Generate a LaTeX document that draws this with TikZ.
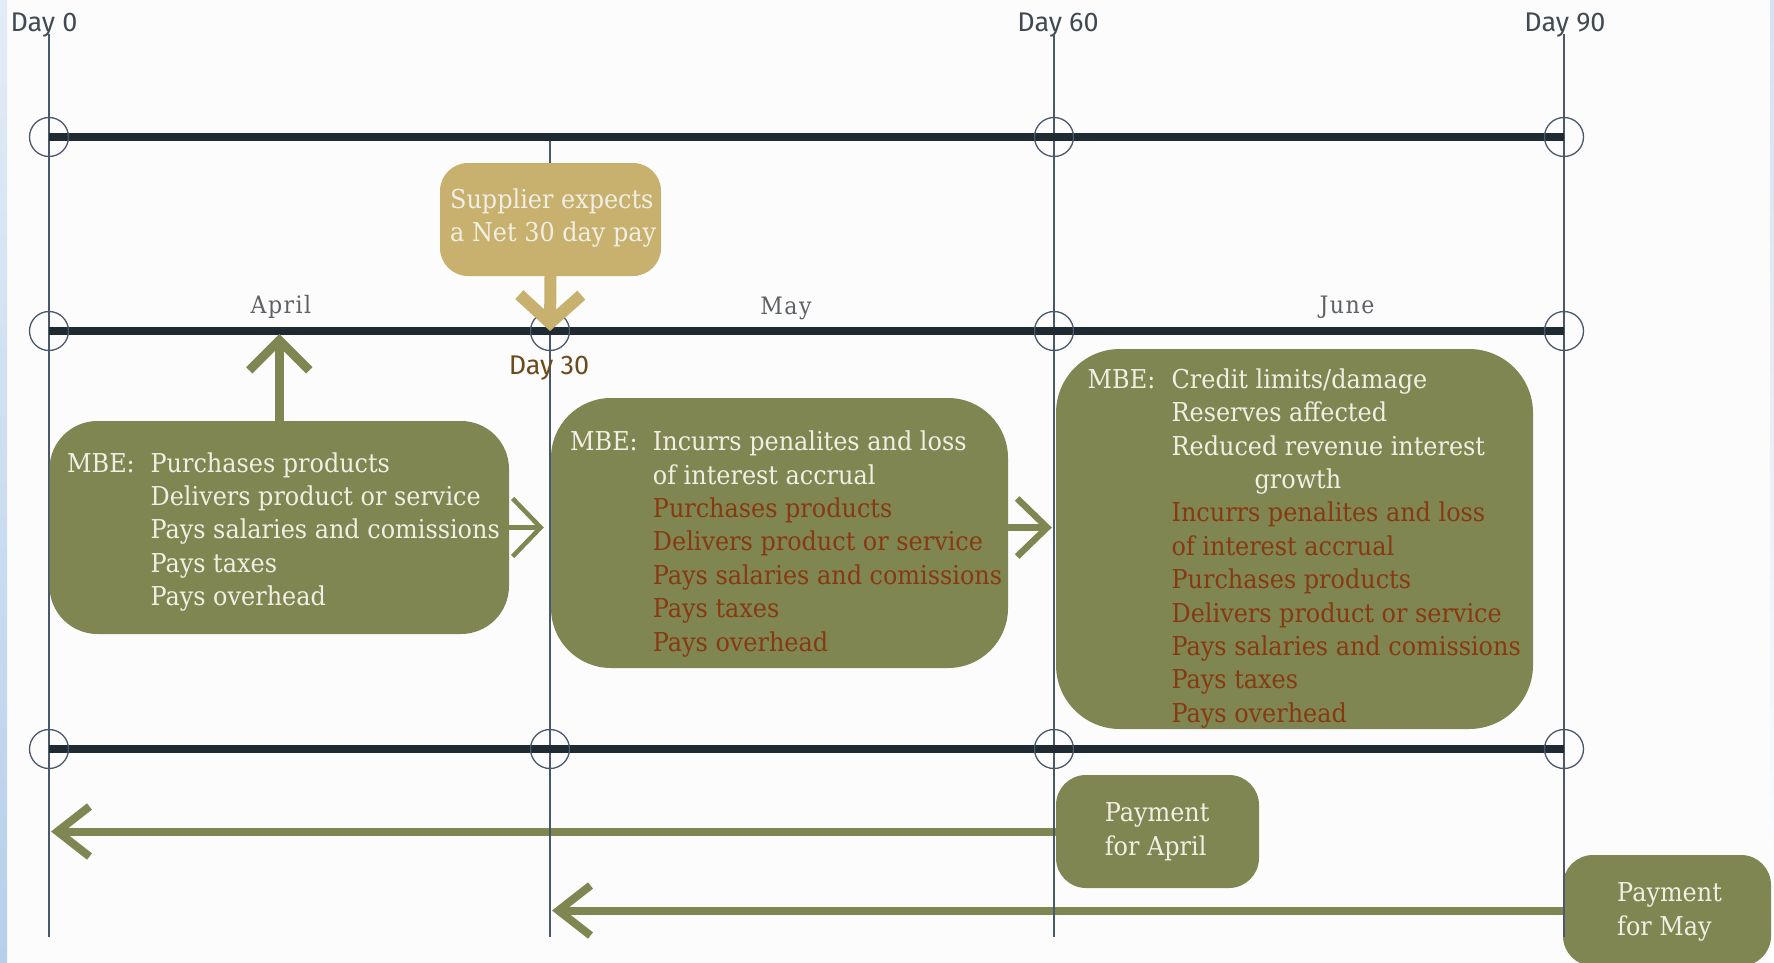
\documentclass[tikz,border=0pt]{standalone}
\usepackage{fontspec}
\setmainfont{DejaVu Serif}[FakeStretch=0.92]
\newfontfamily\dayfont{Fira Sans}
\usetikzlibrary{arrows.meta,positioning}

\definecolor{olive}{HTML}{7F8651}
\definecolor{tan}{HTML}{C8B16E}
\definecolor{rust}{HTML}{873A12}
\definecolor{ink}{HTML}{1F2A33}
\definecolor{slate}{HTML}{4A586B}
\definecolor{cream}{HTML}{F1EFE4}
\definecolor{daybrown}{HTML}{6B4B1C}
\definecolor{monthgray}{HTML}{5E6266}
\definecolor{stripA}{HTML}{E2ECF6}
\definecolor{stripB}{HTML}{B7CFEA}

\newcommand\bodysize{\fontsize{26}{33.4}\selectfont}
\newcommand\rl[1]{\textcolor{rust}{#1}}

\begin{document}
\begin{tikzpicture}[x=1pt,y=-1pt,
    every node/.append style={inner sep=0pt},
    timeline/.style={ink,line width=8pt},
    dayline/.style={slate,line width=1.8pt},
    ring/.style={slate,line width=1.3pt},
    daylabel/.style={font=\dayfont\fontsize{27}{30}\selectfont,text=ink!85,anchor=base},
    monthlabel/.style={font=\addfontfeature{LetterSpace=6}\fontsize{24}{28}\selectfont,text=monthgray,anchor=base},
    roundbox/.style={fill=olive,rounded corners=#1},
    boxtext/.style={font=\bodysize,text=cream,anchor=base west},
    flow/.style={olive,line width=#1},
  ]

% frame
\useasboundingbox (0,0) rectangle (1774,963);
\clip (0,0) rectangle (1774,963);
\fill[white!98!gray] (0,0) rectangle (1774,963);
\shade[top color=stripA,bottom color=stripB] (0,0) rectangle (7,963);
\shade[top color=stripB!60,bottom color=white] (1770,0) rectangle (1774,963);

% days and timelines
\foreach \n/\x/\lx in {0/49/44,60/1054/1058,90/1564/1565}{
  \node[daylabel] (day\n) at (\lx,32) {Day \n};
  \coordinate (top\n) at (\x,34);
  \coordinate (bot\n) at (\x,937);
}
\coordinate (bot30) at (550,937);
\foreach \y/\r in {137/a,331/b,749/c}{
  \coordinate (\r0) at (49,\y);
  \coordinate (\r30) at (550,\y);
  \coordinate (\r60) at (1054,\y);
  \coordinate (\r90) at (1564,\y);
}

% payment boxes
\node[roundbox=30,minimum width=203,minimum height=113] (payapril) at (1157.5,831.5) {};
\node[roundbox=30,minimum width=208,minimum height=111] (paymay) at (1667,910.5) {};
\draw[flow=8pt,-{Straight Barb[length=32pt,width=50pt]},shorten >=2pt] (payapril.west) -- (payapril.west -| a0);
\draw[flow=8pt,-{Straight Barb[length=32pt,width=50pt]},shorten >=2pt] (paymay.west) -- (paymay.west -| a30);

\foreach \n in {0,60,90}
  \draw[dayline] (top\n) -- (bot\n);
\draw[dayline] (a30) -- (bot30);
\foreach \r in {a,b,c}
  \draw[timeline] (\r0) -- (\r90);
\foreach \c in {a0,a60,a90,b0,b30,b60,b90,c0,c30,c60,c90}
  \draw[ring] (\c) circle (19.5);

\node[daylabel,text=daybrown] (day30) at (549,374) {Day 30};
\node[monthlabel] (april) at (281,313) {April};
\node[monthlabel] (may) at (786,314) {May};
\node[monthlabel] (june) at (1347,313) {June};

% supplier
\node[roundbox=28,fill=tan,minimum width=221,minimum height=113] (supplier) at (550.5,219.5) {};
\draw[tan,line width=12pt,-{Straight Barb[length=28pt,width=62pt]}] (supplier.south) -- (b30);

% month boxes
\node[roundbox=48,minimum width=459.5,minimum height=213] (aprilbox) at (279.25,527.5) {};
\node[roundbox=60,minimum width=457,minimum height=270] (maybox) at (779.5,533) {};
\node[roundbox=64,minimum width=477,minimum height=380] (junebox) at (1294.5,539) {};

\draw[flow=9pt,-{Straight Barb[length=30pt,width=60pt]},shorten >=3pt] (aprilbox.north) -- (aprilbox.north |- b0);
\draw[flow=4.5pt,-{Straight Barb[length=28pt,width=58pt]},shorten >=7pt] (aprilbox.east) -- (aprilbox.east -| maybox.west);
\draw[flow=6.5pt,-{Straight Barb[length=30pt,width=58pt]},shorten >=4pt] (maybox.east |- aprilbox.east) -- (junebox.west |- aprilbox.east);

% texts
\node[boxtext] (suppliertxt) at (450,208.3) {\begin{tabular}[t]{@{}l@{}}Supplier expects\\a Net 30 day pay\end{tabular}};

\node[boxtext] (aprilmbe) at (67,472) {MBE:};
\node[boxtext] (aprillist) at (150.4,472) {\begin{tabular}[t]{@{}l@{}}
  Purchases products\\
  Delivers product or service\\
  Pays salaries and comissions\\
  Pays taxes\\
  Pays overhead\end{tabular}};

\node[boxtext] (maymbe) at (570,450.7) {MBE:};
\node[boxtext] (maylist) at (652.7,450.7) {\begin{tabular}[t]{@{}l@{}}
  Incurrs penalites and loss\\
  of interest accrual\\
  \rl{Purchases products}\\
  \rl{Delivers product or service}\\
  \rl{Pays salaries and comissions}\\
  \rl{Pays taxes}\\
  \rl{Pays overhead}\end{tabular}};

\node[boxtext] (junembe) at (1087.5,388.3) {MBE:};
\node[boxtext] (junelist) at (1171.4,388.3) {\begin{tabular}[t]{@{}l@{}}
  Credit limits/damage\\
  Reserves affected\\
  Reduced revenue interest\\
  \hspace{83pt}growth\\
  \rl{Incurrs penalites and loss}\\
  \rl{of interest accrual}\\
  \rl{Purchases products}\\
  \rl{Delivers product or service}\\
  \rl{Pays salaries and comissions}\\
  \rl{Pays taxes}\\
  \rl{Pays overhead}\end{tabular}};

\node[boxtext] (payapriltxt) at (1104.6,821.7) {\begin{tabular}[t]{@{}l@{}}Payment\\for April\end{tabular}};
\node[boxtext] (paymaytxt) at (1617,901.7) {\begin{tabular}[t]{@{}l@{}}Payment\\for May\end{tabular}};
\end{tikzpicture}
\end{document}
